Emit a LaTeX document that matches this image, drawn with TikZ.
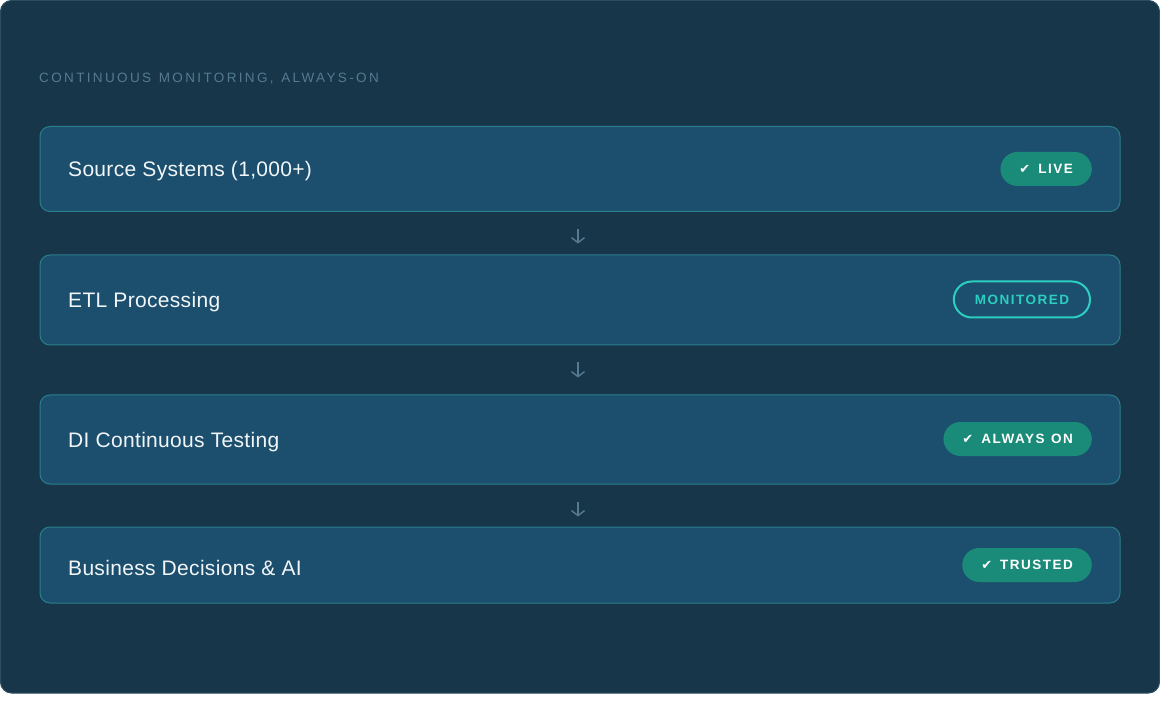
\documentclass[tikz,border=0pt]{standalone}
\usepackage{fontspec}
\setmainfont{Liberation Sans}
\newfontfamily\symfont{DejaVu Sans}
\newfontfamily\headfam{Liberation Sans}[LetterSpace=17.5,WordSpace=1.25]
\newfontfamily\badgefam{Liberation Sans}[LetterSpace=11,WordSpace=1.25]
\newfontfamily\stagefam{Liberation Sans}[LetterSpace=1.5]
\usetikzlibrary{arrows.meta}
\definecolor{panelbg}{HTML}{17364A}
\definecolor{panelline}{HTML}{2B4C63}
\definecolor{boxfill}{HTML}{1C4E6D}
\definecolor{boxline}{HTML}{2A7F8C}
\definecolor{headtext}{HTML}{557A91}
\definecolor{boxtext}{HTML}{F2F6F8}
\definecolor{badgefill}{HTML}{1B8B79}
\definecolor{monitor}{HTML}{2CCFBF}
\definecolor{arrowcol}{HTML}{557A91}
\tikzset{
  stagebox/.style={draw=boxline, line width=1pt, fill=boxfill, rounded corners=10pt, minimum width=1080pt, inner sep=0pt},
  stagetext/.style={anchor=base west, text=boxtext, font=\stagefam\fontsize{21}{24}\selectfont, inner sep=0pt},
  badgefont/.style={font=\badgefam\fontsize{13.5}{16}\selectfont\bfseries},
  badgefull/.style={badgefont, fill=badgefill, text=white, rounded corners=17pt, minimum height=34pt, inner xsep=19pt, inner ysep=0pt, anchor=east},
  badgeline/.style={badgefont, draw=monitor, line width=2pt, text=monitor, rounded corners=18pt, minimum height=36pt, inner xsep=21pt, inner ysep=0pt, anchor=east},
  flowarrow/.style={draw=arrowcol, line width=1.4pt, -{Straight Barb[length=5pt,width=13pt]}}
}
\newcommand{\chk}{{\symfont\fontsize{13}{15}\selectfont ✔}\hspace{8pt}}
\begin{document}
\begin{tikzpicture}[x=1pt,y=-1pt]
\useasboundingbox (0,0) rectangle (1160,711);
\fill[white] (0,0) rectangle (1160,711);
\draw[fill=panelbg, draw=panelline, line width=1pt, rounded corners=11pt] (0.5,0.5) rectangle (1159.5,693);
\node[anchor=base west, text=headtext, inner sep=0pt, font=\headfam\fontsize{13.5}{15}\selectfont] (head) at (39,82.5) {CONTINUOUS MONITORING, ALWAYS-ON};

\node[stagebox, minimum height=85pt] (b1) at (580,169) {};
\node[stagebox, minimum height=90pt] (b2) at (580,300) {};
\node[stagebox, minimum height=89pt] (b3) at (580,439.5) {};
\node[stagebox, minimum height=76pt] (b4) at (580,565) {};

\node[stagetext] (t1) at (68,177) {Source Systems (1,000+)};
\node[stagetext] (t2) at (68,308) {ETL Processing};
\node[stagetext] (t3) at (68,447.5) {DI Continuous Testing};
\node[stagetext] (t4) at (68,575) {Business Decisions \& AI};

\node[badgefull] (g1) at (1092,169) {\chk LIVE};
\node[badgeline] (g2) at (1091,299.5) {MONITORED};
\node[badgefull] (g3) at (1092,439) {\chk ALWAYS ON};
\node[badgefull] (g4) at (1092,565) {\chk TRUSTED};

\draw[flowarrow, shorten <=17pt, shorten >=11pt] (b1.south -| 578,0) -- (b2.north -| 578,0);
\draw[flowarrow, shorten <=17pt, shorten >=17pt] (b2.south -| 578,0) -- (b3.north -| 578,0);
\draw[flowarrow, shorten <=17pt, shorten >=10pt] (b3.south -| 578,0) -- (b4.north -| 578,0);
\end{tikzpicture}
\end{document}
